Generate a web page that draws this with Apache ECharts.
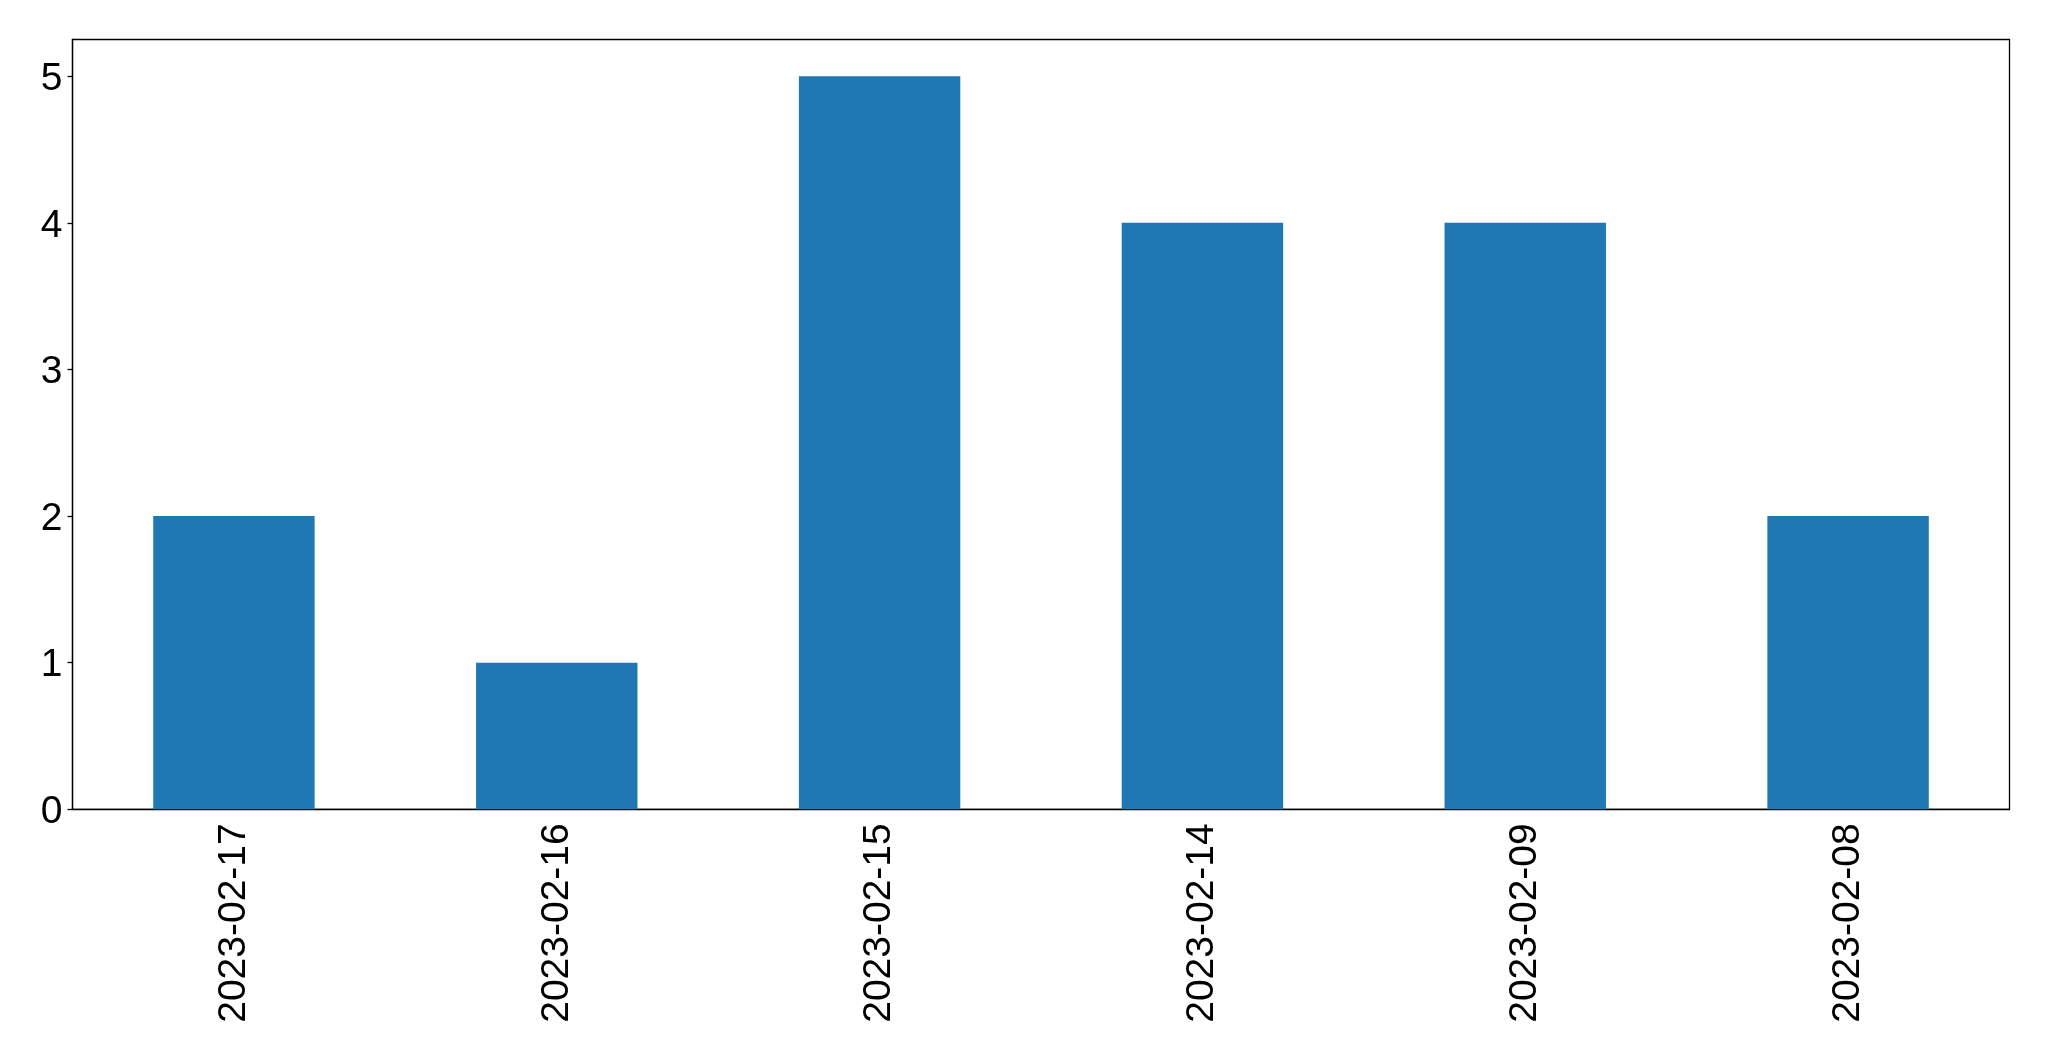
<!DOCTYPE html>
<html>
<head>
<meta charset="utf-8">
<script src="https://cdn.jsdelivr.net/npm/echarts@6/dist/echarts.min.js"></script>
<style>html,body{margin:0;padding:0;background:#fff}#c{width:2049px;height:1061px}</style>
</head>
<body>
<div id="c"></div>
<script>
const categories = ['2023-02-17','2023-02-16','2023-02-15','2023-02-14','2023-02-09','2023-02-08'];
const values = [2, 1, 5, 4, 4, 2];
const yTicks = [0, 1, 2, 3, 4, 5];

const chart = echarts.init(document.getElementById('c'));
chart.setOption({
  animation: false,
  backgroundColor: '#ffffff',
  textStyle: { fontFamily: 'Liberation Sans' },
  grid: { left: 72.5, right: 39.5, top: 39.5, bottom: 251.7, show: true, borderColor: '#000', borderWidth: 1.3, backgroundColor: 'transparent' },
  xAxis: {
    type: 'category',
    data: categories,
    axisLine: { lineStyle: { color: '#000', width: 1.3 } },
    axisTick: { alignWithLabel: true, length: 5, lineStyle: { color: '#000', width: 1.3 } },
    axisLabel: { rotate: 90, color: '#000', fontSize: 39, fontFamily: 'Liberation Sans', margin: 14 }
  },
  yAxis: {
    type: 'value',
    min: 0,
    max: 5.25,
    interval: 1,
    splitLine: { show: false },
    axisLine: { show: true, lineStyle: { color: '#000', width: 1.3 } },
    axisTick: { show: true, length: 5, customValues: yTicks, lineStyle: { color: '#000', width: 1.3 } },
    axisLabel: {
      color: '#000', fontSize: 39, fontFamily: 'Liberation Sans', margin: 10, customValues: yTicks,
      formatter: '{a|{value}}',
      rich: { a: { fontSize: 39, fontFamily: 'Liberation Sans', color: '#000', padding: [6, 0, 0, 0] } }
    }
  },
  series: [{
    type: 'bar',
    data: values,
    barWidth: '50%',
    itemStyle: { color: '#1f77b4' }
  }]
});
</script>
</body>
</html>
